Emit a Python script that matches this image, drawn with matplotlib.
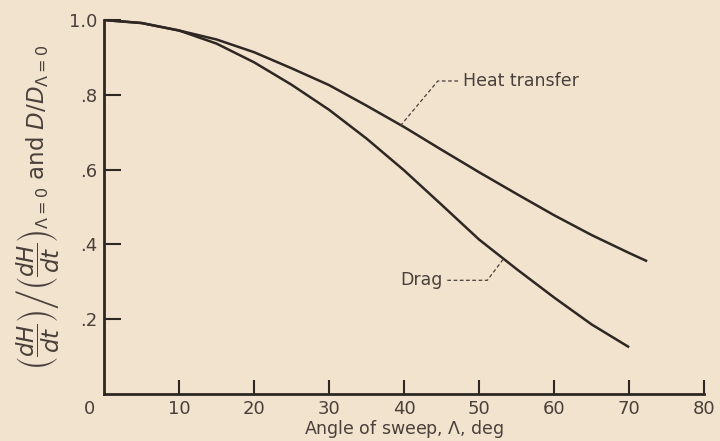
import matplotlib
matplotlib.use("Agg")
import matplotlib.pyplot as plt

# Data
heat_x = [0, 5, 10, 15, 20, 25, 30, 35, 40, 45, 50, 55, 60, 65, 70, 72.4]
heat_y = [1.0, 0.992, 0.972, 0.948, 0.914, 0.871, 0.826, 0.771, 0.714, 0.653,
          0.593, 0.535, 0.478, 0.425, 0.377, 0.355]

drag_x = [0, 5, 10, 15, 20, 25, 30, 35, 40, 45, 50, 55, 60, 65, 70]
drag_y = [1.0, 0.992, 0.972, 0.937, 0.887, 0.827, 0.760, 0.683, 0.598, 0.506,
          0.413, 0.334, 0.258, 0.186, 0.125]

xticks = [10, 20, 30, 40, 50, 60, 70, 80]
yticks = [0.2, 0.4, 0.6, 0.8, 1.0]
yticklabels = [".2", ".4", ".6", ".8", "1.0"]

bg = "#f1e3cd"
ink = "#2f2724"
txt = "#4a403b"

fig = plt.figure(figsize=(7.2, 4.41), dpi=100, facecolor=bg)
ax = fig.add_axes([0.1444, 0.1066, 0.8336, 0.848])
ax.set_facecolor(bg)

ax.plot(heat_x, heat_y, color=ink, lw=1.8, solid_capstyle="butt")
ax.plot(drag_x, drag_y, color=ink, lw=1.8, solid_capstyle="butt")

ax.set_xlim(0, 80)
ax.set_ylim(0, 1.0)
for s in ["top", "right"]:
    ax.spines[s].set_visible(False)
for s in ["left", "bottom"]:
    ax.spines[s].set_linewidth(2.0)
    ax.spines[s].set_color(ink)

ax.set_xticks(xticks)
ax.set_xticklabels([str(t) for t in xticks])
ax.set_yticks(yticks)
ax.set_yticklabels(yticklabels)
ax.tick_params(axis="x", direction="in", length=10, width=1.5, color=ink,
               labelsize=13, labelcolor=txt, pad=4)
ax.tick_params(axis="y", direction="in", length=12, width=1.5, color=ink,
               labelsize=13, labelcolor=txt, pad=5)
ax.annotate("0", xy=(-1.9, 0), xytext=(0, -4), textcoords="offset points",
            ha="center", va="top", fontsize=13, color=txt, annotation_clip=False)

ax.set_xlabel(r"Angle of sweep, $\Lambda$, deg", fontsize=12.5, color=txt, labelpad=0)
ax.set_ylabel(r"$\left(\dfrac{dH}{dt}\right)\left/\left(\dfrac{dH}{dt}\right)_{\Lambda=0}\right.$"
              r" and $D/D_{\Lambda=0}$", fontsize=16.5, color=txt, labelpad=5)

# Leaders
ax.plot([39.5, 44.5, 47.4], [0.717, 0.837, 0.837], ls=(0, (3, 2)), lw=0.9, color=txt)
ax.text(47.8, 0.837, "Heat transfer", fontsize=12.5, color=txt, ha="left", va="center")
ax.plot([53.2, 51.1, 45.5], [0.36, 0.304, 0.304], ls=(0, (3, 2)), lw=0.9, color=txt)
ax.text(45.2, 0.304, "Drag", fontsize=12.5, color=txt, ha="right", va="center")

fig.savefig("out.png", dpi=100, facecolor=bg)
